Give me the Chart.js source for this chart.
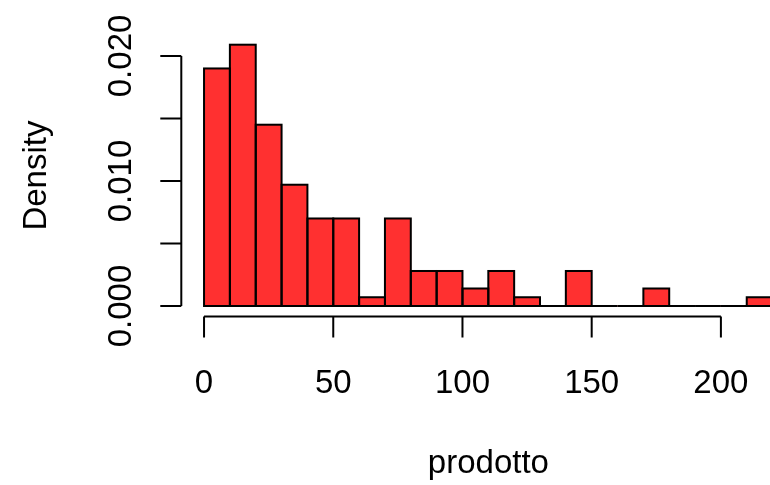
<!DOCTYPE html>
<html>
<head>
<meta charset="utf-8">
<script src="https://cdn.jsdelivr.net/npm/chart.js@4/dist/chart.umd.min.js"></script>
<style>
  html, body { margin: 0; padding: 0; background: #fff; overflow: hidden; }
  canvas { display: block; }
</style>
</head>
<body>
<canvas id="hist" width="770" height="485"></canvas>
<script>
// histogram of prodotto, bins of width 10
const breaks = [0, 10, 20, 30, 40, 50, 60, 70, 80, 90, 100, 110, 120, 130, 140, 150, 160, 170, 180, 190, 200, 210, 220];
const density = [0.0190, 0.0209, 0.0145, 0.0097, 0.0070, 0.0070, 0.0007, 0.0070, 0.0028, 0.0028, 0.0014, 0.0028,
                 0.0007, 0, 0.0028, 0, 0, 0.0014, 0, 0, 0, 0.0007];
const xTicks = [0, 50, 100, 150, 200];
const yTicks = [0, 0.005, 0.010, 0.015, 0.020];
const yTickLabels = ['0.000', '', '0.010', '', '0.020'];

const FONT = '33px "Liberation Sans", Arial, Helvetica, sans-serif';
const fillColor = '#FF3030';

const points = density.map((d, i) => ({ x: (breaks[i] + breaks[i + 1]) / 2, y: d }));

// R-style outlines, axes and labels
const baseStyle = {
    id: 'baseStyle',
    afterDatasetsDraw(chart) {
        const ctx = chart.ctx;
        const xs = chart.scales.x, ys = chart.scales.y;
        const area = chart.chartArea;
        ctx.save();
        ctx.strokeStyle = '#000';
        ctx.lineWidth = 2;

        // bar borders, centred on the bin edges
        chart.getDatasetMeta(0).data.forEach(bar => {
            const w = bar.width;
            ctx.strokeRect(bar.x - w / 2, bar.y, w, bar.base - bar.y);
        });

        // y axis
        const axX = area.left;
        ctx.beginPath();
        ctx.moveTo(axX, ys.getPixelForValue(yTicks[0]));
        ctx.lineTo(axX, ys.getPixelForValue(yTicks[yTicks.length - 1]));
        yTicks.forEach(v => {
            const py = ys.getPixelForValue(v);
            ctx.moveTo(axX, py);
            ctx.lineTo(axX - 21, py);
        });
        // x axis
        const axY = area.bottom;
        ctx.moveTo(xs.getPixelForValue(xTicks[0]), axY);
        ctx.lineTo(xs.getPixelForValue(xTicks[xTicks.length - 1]), axY);
        xTicks.forEach(v => {
            const px = xs.getPixelForValue(v);
            ctx.moveTo(px, axY);
            ctx.lineTo(px, axY + 21);
        });
        ctx.stroke();

        ctx.fillStyle = '#000';
        ctx.font = FONT;
        ctx.textAlign = 'center';
        ctx.textBaseline = 'alphabetic';
        xTicks.forEach(v => {
            ctx.fillText(String(v), xs.getPixelForValue(v), axY + 76);
        });
        ctx.fillText('prodotto', (area.left + 795.5) / 2, 473);

        yTicks.forEach((v, i) => {
            if (!yTickLabels[i]) return;
            ctx.save();
            ctx.translate(axX - 50, ys.getPixelForValue(v));
            ctx.rotate(-Math.PI / 2);
            ctx.fillText(yTickLabels[i], 0, 0);
            ctx.restore();
        });

        ctx.save();
        ctx.translate(46, (area.top + area.bottom) / 2);
        ctx.rotate(-Math.PI / 2);
        ctx.fillText('Density', 0, 0);
        ctx.restore();

        ctx.restore();
    }
};

new Chart(document.getElementById('hist'), {
    type: 'bar',
    data: {
        datasets: [{
            data: points,
            backgroundColor: fillColor,
            borderWidth: 0,
            barPercentage: 1,
            categoryPercentage: 1
        }]
    },
    options: {
        responsive: false,
        animation: false,
        devicePixelRatio: 1,
        layout: { padding: { left: 181.3, right: 0, top: 34.7, bottom: 168.5 } },
        plugins: { legend: { display: false }, tooltip: { enabled: false } },
        scales: {
            x: { type: 'linear', min: -8.8, max: 219, offset: false, display: false },
            y: { min: -0.00084, max: 0.0217, display: false }
        }
    },
    plugins: [baseStyle]
});
</script>
</body>
</html>
